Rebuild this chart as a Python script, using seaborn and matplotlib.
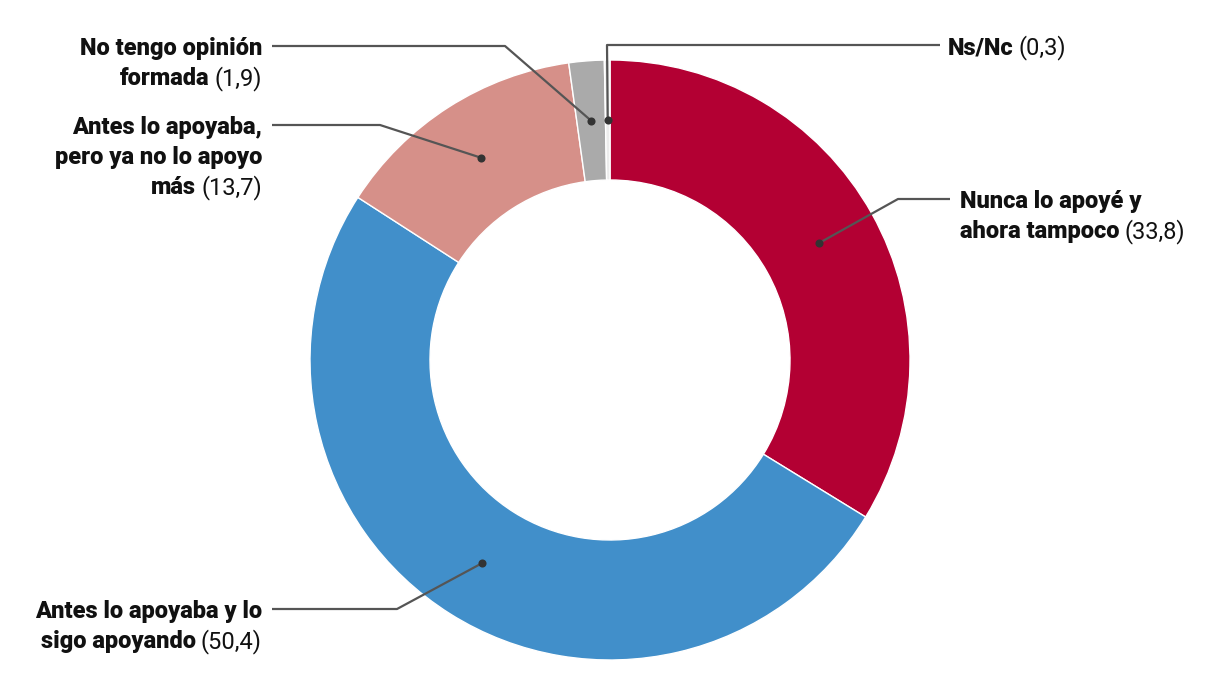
import numpy as np
import matplotlib
matplotlib.use("Agg")
import matplotlib.pyplot as plt
import seaborn as sns

# ---- data ----
categories = [
    "Nunca lo apoyé y ahora tampoco",
    "Antes lo apoyaba y lo sigo apoyando",
    "Antes lo apoyaba, pero ya no lo apoyo más",
    "No tengo opinión formada",
    "Ns/Nc",
]
values = [33.8, 50.4, 13.7, 1.9, 0.3]
value_labels = ["(33,8)", "(50,4)", "(13,7)", "(1,9)", "(0,3)"]
label_lines = [
    ["Nunca lo apoyé y", "ahora tampoco"],
    ["Antes lo apoyaba y lo", "sigo apoyando"],
    ["Antes lo apoyaba,", "pero ya no lo apoyo", "más"],
    ["No tengo opinión", "formada"],
    ["Ns/Nc"],
]
colors = ["#b30033", "#418fca", "#d69089", "#aaaaaa", "#ececec"]

sns.set_theme(style="white")
plt.rcParams["font.family"] = ["Roboto", "DejaVu Sans"]

W, H = 1220, 700
fig = plt.figure(figsize=(W / 100, H / 100), dpi=100)
ax = fig.add_axes([0, 0, 1, 1])

cx, cy = 610, H - 360
R_out, R_in = 300, 180
wedges, _ = ax.pie(values, colors=colors, startangle=90, counterclock=False,
                   center=(cx, cy), radius=R_out,
                   wedgeprops=dict(width=R_out - R_in, edgecolor="white", linewidth=1))
ax.set_xlim(0, W)
ax.set_ylim(0, H)
ax.set_aspect("equal")
ax.axis("off")

# layout of leaders (image coords: elbow x, elbow y, end x, text x, side)
layout = [
    (898, 199, 950, 960, "left"),
    (397, 609, 272, 262, "right"),
    (380, 125, 272, 262, "right"),
    (505, 46, 272, 262, "right"),
    (607, 45, 940, 948, "left"),
]

r_mid = (R_out + R_in) / 2
line_col = "#555555"
dot_col = "#333333"
txt_col = "#111111"
fs = 17
lh = 30
bw = "heavy"
renderer = fig.canvas.get_renderer()

for w, lines, vlab, (ex, ey, endx, tx, side) in zip(wedges, label_lines, value_labels, layout):
    ang = np.deg2rad((w.theta1 + w.theta2) / 2)
    px, py = cx + r_mid * np.cos(ang), cy + r_mid * np.sin(ang)
    ey_m = H - ey
    ax.plot([px, ex, endx], [py, ey_m, ey_m], color=line_col, lw=1.6, zorder=3,
            solid_capstyle="butt")
    ax.scatter([px], [py], s=34, color=dot_col, zorder=4, linewidths=0)
    for i, ln in enumerate(lines):
        y = ey_m - i * lh
        last = i == len(lines) - 1
        if side == "left":
            t = ax.text(tx, y, ln, ha="left", va="center_baseline", fontsize=fs,
                        fontweight=bw, color=txt_col)
            if last:
                bb = t.get_window_extent(renderer)
                ax.text(bb.x1 + 5, y, vlab, ha="left", va="center_baseline", fontsize=fs,
                        fontweight="normal", color=txt_col)
        else:
            if last:
                tv = ax.text(tx, y, vlab, ha="right", va="center_baseline", fontsize=fs,
                             fontweight="normal", color=txt_col)
                bb = tv.get_window_extent(renderer)
                ax.text(bb.x0 - 5, y, ln, ha="right", va="center_baseline", fontsize=fs,
                        fontweight=bw, color=txt_col)
            else:
                ax.text(tx, y, ln, ha="right", va="center_baseline", fontsize=fs,
                        fontweight=bw, color=txt_col)

fig.savefig("out.png", dpi=100, facecolor="white")
